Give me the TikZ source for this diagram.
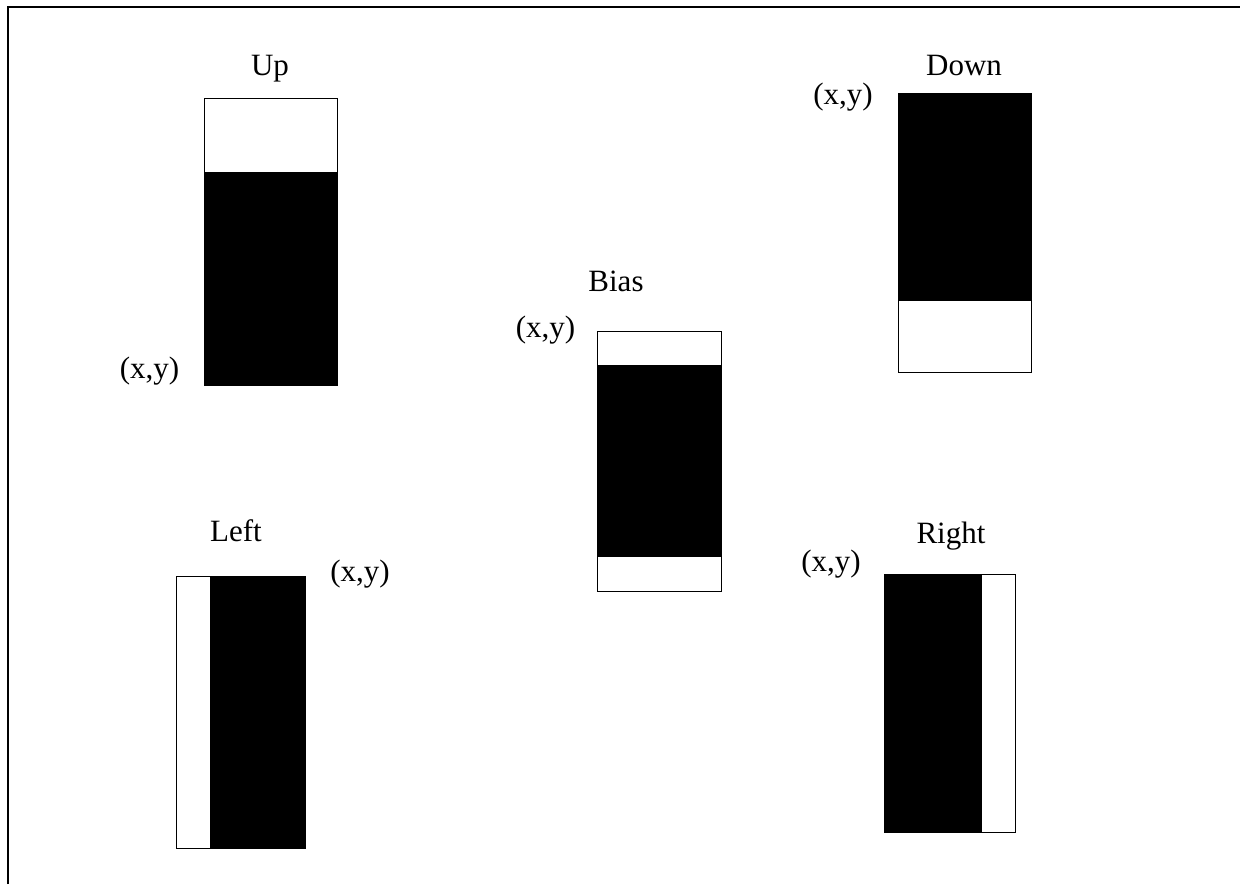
\documentclass[tikz,border=0pt]{standalone}
\usepackage{fontspec}
\setmainfont{Liberation Serif}
\begin{document}
\begin{tikzpicture}[x=1pt,y=-1pt,
  lbl/.style={anchor=base,inner sep=0pt,font=\fontsize{31}{36}\selectfont},
  wbox/.style={draw=black,line width=1pt,fill=white},
  bbox/.style={fill=black}]
\useasboundingbox (0,0) rectangle (1240,884);
% frame
\draw[line width=1.3pt] (8,884) -- (8,7) -- (1240,7);
% Up
\draw[wbox] (204,98) rectangle (337,385);
\fill[bbox] (204,172) rectangle (337,385);
\draw[line width=1pt] (204,98) rectangle (337,385);
\node[lbl] (upl) at (270,75) {Up};
\node[lbl] (upxy) at (149.5,378) {(x,y)};
% Down
\draw[wbox] (898,93) rectangle (1031,372);
\fill[bbox] (898,93) rectangle (1031,301);
\draw[line width=1pt] (898,93) rectangle (1031,372);
\node[lbl] (downl) at (964,75) {Down};
\node[lbl] (downxy) at (843,104) {(x,y)};
% Bias
\draw[wbox] (597,331) rectangle (721,591);
\fill[bbox] (597,365) rectangle (721,557);
\draw[line width=1pt] (597,331) rectangle (721,591);
\node[lbl] (biasl) at (616,291) {Bias};
\node[lbl] (biasxy) at (545.5,337) {(x,y)};
% Left
\draw[wbox] (176,576) rectangle (305,848);
\fill[bbox] (210,576) rectangle (305,848);
\draw[line width=1pt] (176,576) rectangle (305,848);
\node[lbl] (leftl) at (236,541) {Left};
\node[lbl] (leftxy) at (360,581) {(x,y)};
% Right
\draw[wbox] (884,574) rectangle (1015,832);
\fill[bbox] (884,574) rectangle (982,832);
\draw[line width=1pt] (884,574) rectangle (1015,832);
\node[lbl] (rightl) at (951,543) {Right};
\node[lbl] (rightxy) at (831,571) {(x,y)};
\end{tikzpicture}
\end{document}
